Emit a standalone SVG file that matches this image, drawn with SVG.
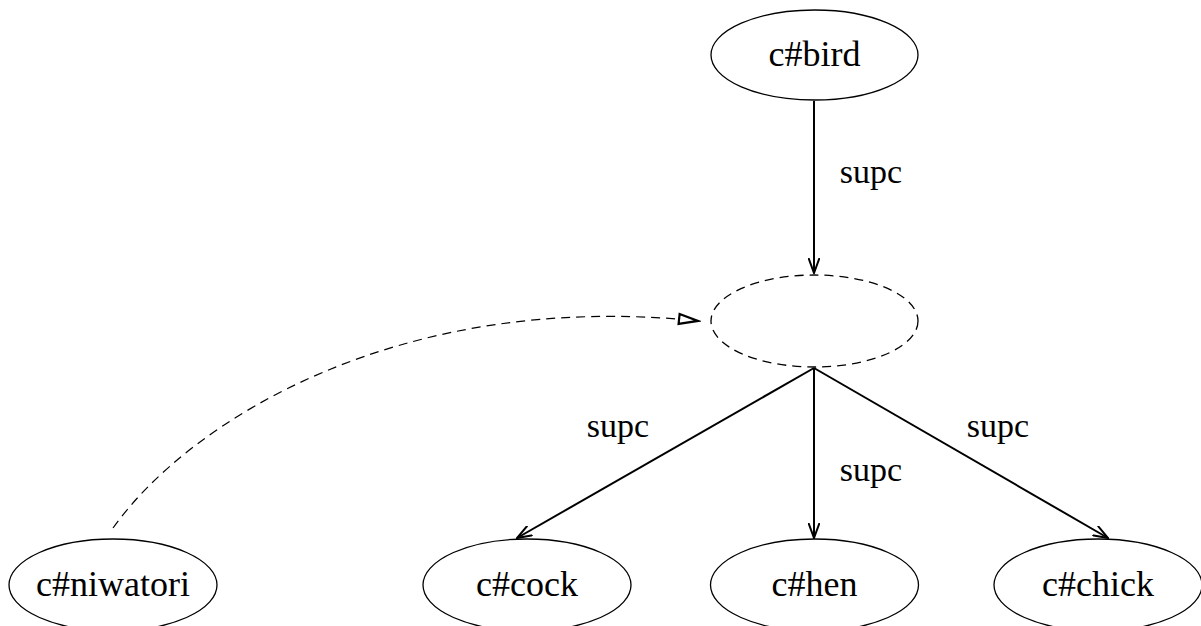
<svg xmlns="http://www.w3.org/2000/svg" width="1201" height="626" viewBox="0 0 1201 626">
  <style>
    .node ellipse { fill: none; stroke: #000; stroke-width: 1.3; }
    .node text, .label { font-family: "Liberation Serif", "Times New Roman", serif; fill: #000; text-anchor: middle; }
    .node text { font-size: 36px; }
    .label { font-size: 34px; }
    .edge { fill: none; stroke: #000; stroke-width: 2; }
    .dash { fill: none; stroke: #000; stroke-width: 1.2; stroke-dasharray: 9 6; }
  </style>
  <defs>
    <marker id="vee" viewBox="0 0 16 12" refX="15" refY="6" markerWidth="16" markerHeight="12" markerUnits="userSpaceOnUse" orient="auto">
      <polyline points="0,0.5 15,6 0,11.5" fill="none" stroke="#000" stroke-width="2"/>
    </marker>
    <marker id="tri" viewBox="0 0 24 16" refX="22" refY="8" markerWidth="24" markerHeight="16" markerUnits="userSpaceOnUse" orient="auto">
      <polygon points="2,3 21,8 2,13" fill="#fff" stroke="#000" stroke-width="2.2"/>
    </marker>
  </defs>

  <g id="connectors">
    <line class="edge" x1="814" y1="101" x2="814" y2="273" marker-end="url(#vee)"/>
    <line class="edge" x1="814" y1="368" x2="517" y2="538" marker-end="url(#vee)"/>
    <line class="edge" x1="814" y1="368" x2="814" y2="538" marker-end="url(#vee)"/>
    <line class="edge" x1="814" y1="368" x2="1108" y2="538" marker-end="url(#vee)"/>
    <path class="dash" d="M113,528 C190,420 400,290 699,321" marker-end="url(#tri)"/>
    <text class="label" x="871" y="183">supc</text>
    <text class="label" x="618" y="437">supc</text>
    <text class="label" x="871" y="481">supc</text>
    <text class="label" x="998" y="437">supc</text>
  </g>

  <g id="bird" class="node">
    <ellipse cx="814.5" cy="55" rx="103.5" ry="45"/>
    <text x="814.5" y="66">c#bird</text>
  </g>
  <g id="anon" class="node">
    <ellipse cx="814.5" cy="321" rx="103.5" ry="46" stroke-dasharray="9 6"/>
  </g>
  <g id="niwatori" class="node">
    <ellipse cx="113" cy="585" rx="104" ry="46"/>
    <text x="113" y="596">c#niwatori</text>
  </g>
  <g id="cock" class="node">
    <ellipse cx="527" cy="585" rx="104" ry="46"/>
    <text x="527" y="596">c#cock</text>
  </g>
  <g id="hen" class="node">
    <ellipse cx="814.5" cy="585" rx="104" ry="46"/>
    <text x="814.5" y="596">c#hen</text>
  </g>
  <g id="chick" class="node">
    <ellipse cx="1098" cy="585" rx="104" ry="46"/>
    <text x="1098" y="596">c#chick</text>
  </g>
</svg>
